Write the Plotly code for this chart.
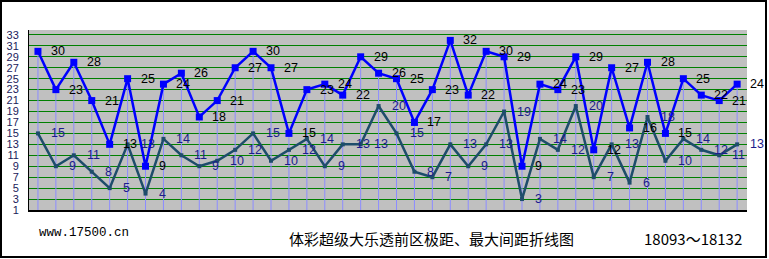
import plotly.graph_objects as go

periods = list(range(1, 41))
range_vals = [30, 23, 28, 21, 13, 25, 9, 24, 26, 18,
              21, 27, 30, 27, 15, 23, 24, 22, 29, 26,
              25, 17, 23, 32, 22, 30, 29, 9, 24, 23,
              29, 12, 27, 16, 28, 15, 25, 22, 21, 24]
gap_vals = [15, 9, 11, 8, 5, 13, 4, 14, 11, 9,
            10, 12, 15, 10, 12, 14, 9, 13, 13, 20,
            15, 8, 7, 13, 9, 13, 19, 3, 14, 12,
            20, 7, 13, 6, 18, 10, 14, 12, 11, 13]
ytick_vals = list(range(1, 34, 2))
y_min = 1
title_text = "体彩超级大乐透前区极距、最大间距折线图"
site_text = "www.17500.cn"
period_text = "18093～18132"

W, H = 769, 259
ML, MR, MT, MB = 29, 22, 30, 49
PW, PH = W - ML - MR, H - MT - MB


def px(x):
    return (x - ML) / PW


def py(y):
    return (H - MB - y) / PH


fig = go.Figure()

# drop lines from the blue series down to the axis
dx, dy = [], []
for x, v in zip(periods, range_vals):
    dx += [x, x, None]
    dy += [v, y_min, None]
fig.add_trace(go.Scatter(x=dx, y=dy, mode="lines",
                         line=dict(color="#8c8cff", width=1),
                         hoverinfo="skip", showlegend=False))

fig.add_trace(go.Scatter(x=periods, y=gap_vals, mode="lines+markers",
                         line=dict(color="#1e4d6b", width=2.5),
                         marker=dict(symbol="square", size=4, color="#1e4d6b"),
                         showlegend=False))
fig.add_trace(go.Scatter(x=periods, y=range_vals, mode="lines+markers",
                         line=dict(color="#0000ff", width=2.5),
                         marker=dict(symbol="square", size=7, color="#0000ff"),
                         showlegend=False))

annotations = []
for x, v in zip(periods, range_vals):
    annotations.append(dict(x=x, y=v, xref="x", yref="y", text=str(v),
                            showarrow=False, xanchor="left", yanchor="middle",
                            xshift=11, font=dict(family="Liberation Sans", size=12.5, color="#000000")))
for x, v in zip(periods, gap_vals):
    annotations.append(dict(x=x, y=v, xref="x", yref="y", text=str(v),
                            showarrow=False, xanchor="left", yanchor="middle",
                            xshift=11, font=dict(family="Liberation Sans", size=12.5, color="#1c1c8c")))

annotations.append(dict(x=px(37), y=py(232.5), xref="paper", yref="paper", text=site_text,
                        showarrow=False, xanchor="left", yanchor="middle",
                        font=dict(family="Liberation Mono", size=12.5, color="#000000")))
annotations.append(dict(x=px(431), y=py(238.5), xref="paper", yref="paper", text=title_text,
                        showarrow=False, xanchor="center", yanchor="middle",
                        font=dict(family="Noto Sans CJK SC", size=15, color="#000000")))
annotations.append(dict(x=px(744), y=py(238.5), xref="paper", yref="paper", text=period_text,
                        showarrow=False, xanchor="right", yanchor="middle",
                        font=dict(family="Noto Sans CJK SC", size=15, color="#000000")))

shapes = [dict(type="rect", xref="paper", yref="paper",
               x0=px(1), x1=px(766), y0=py(257), y1=py(1),
               line=dict(color="#000000", width=2), fillcolor="rgba(0,0,0,0)", layer="above")]

fig.update_layout(
    width=W, height=H,
    margin=dict(l=ML, r=MR, t=MT, b=MB, pad=0, autoexpand=False),
    paper_bgcolor="#ffffff",
    plot_bgcolor="#c0c0c0",
    annotations=annotations,
    shapes=shapes,
    showlegend=False,
    xaxis=dict(range=[0.5, 40.55], showgrid=False, zeroline=False,
               showticklabels=False, ticks="", showline=True, automargin=False,
               linecolor="#000000", linewidth=2),
    yaxis=dict(range=[y_min, 33.9], tickvals=ytick_vals, showgrid=True,
               gridcolor="#008000", gridwidth=1.3, zeroline=False, automargin=False,
               showline=True, linecolor="#000000", linewidth=1, ticks="",
               ticklabelstandoff=7,
               tickfont=dict(family="Liberation Sans", size=11, color="#1a1a5a")),
)

fig.write_html("out.html")
